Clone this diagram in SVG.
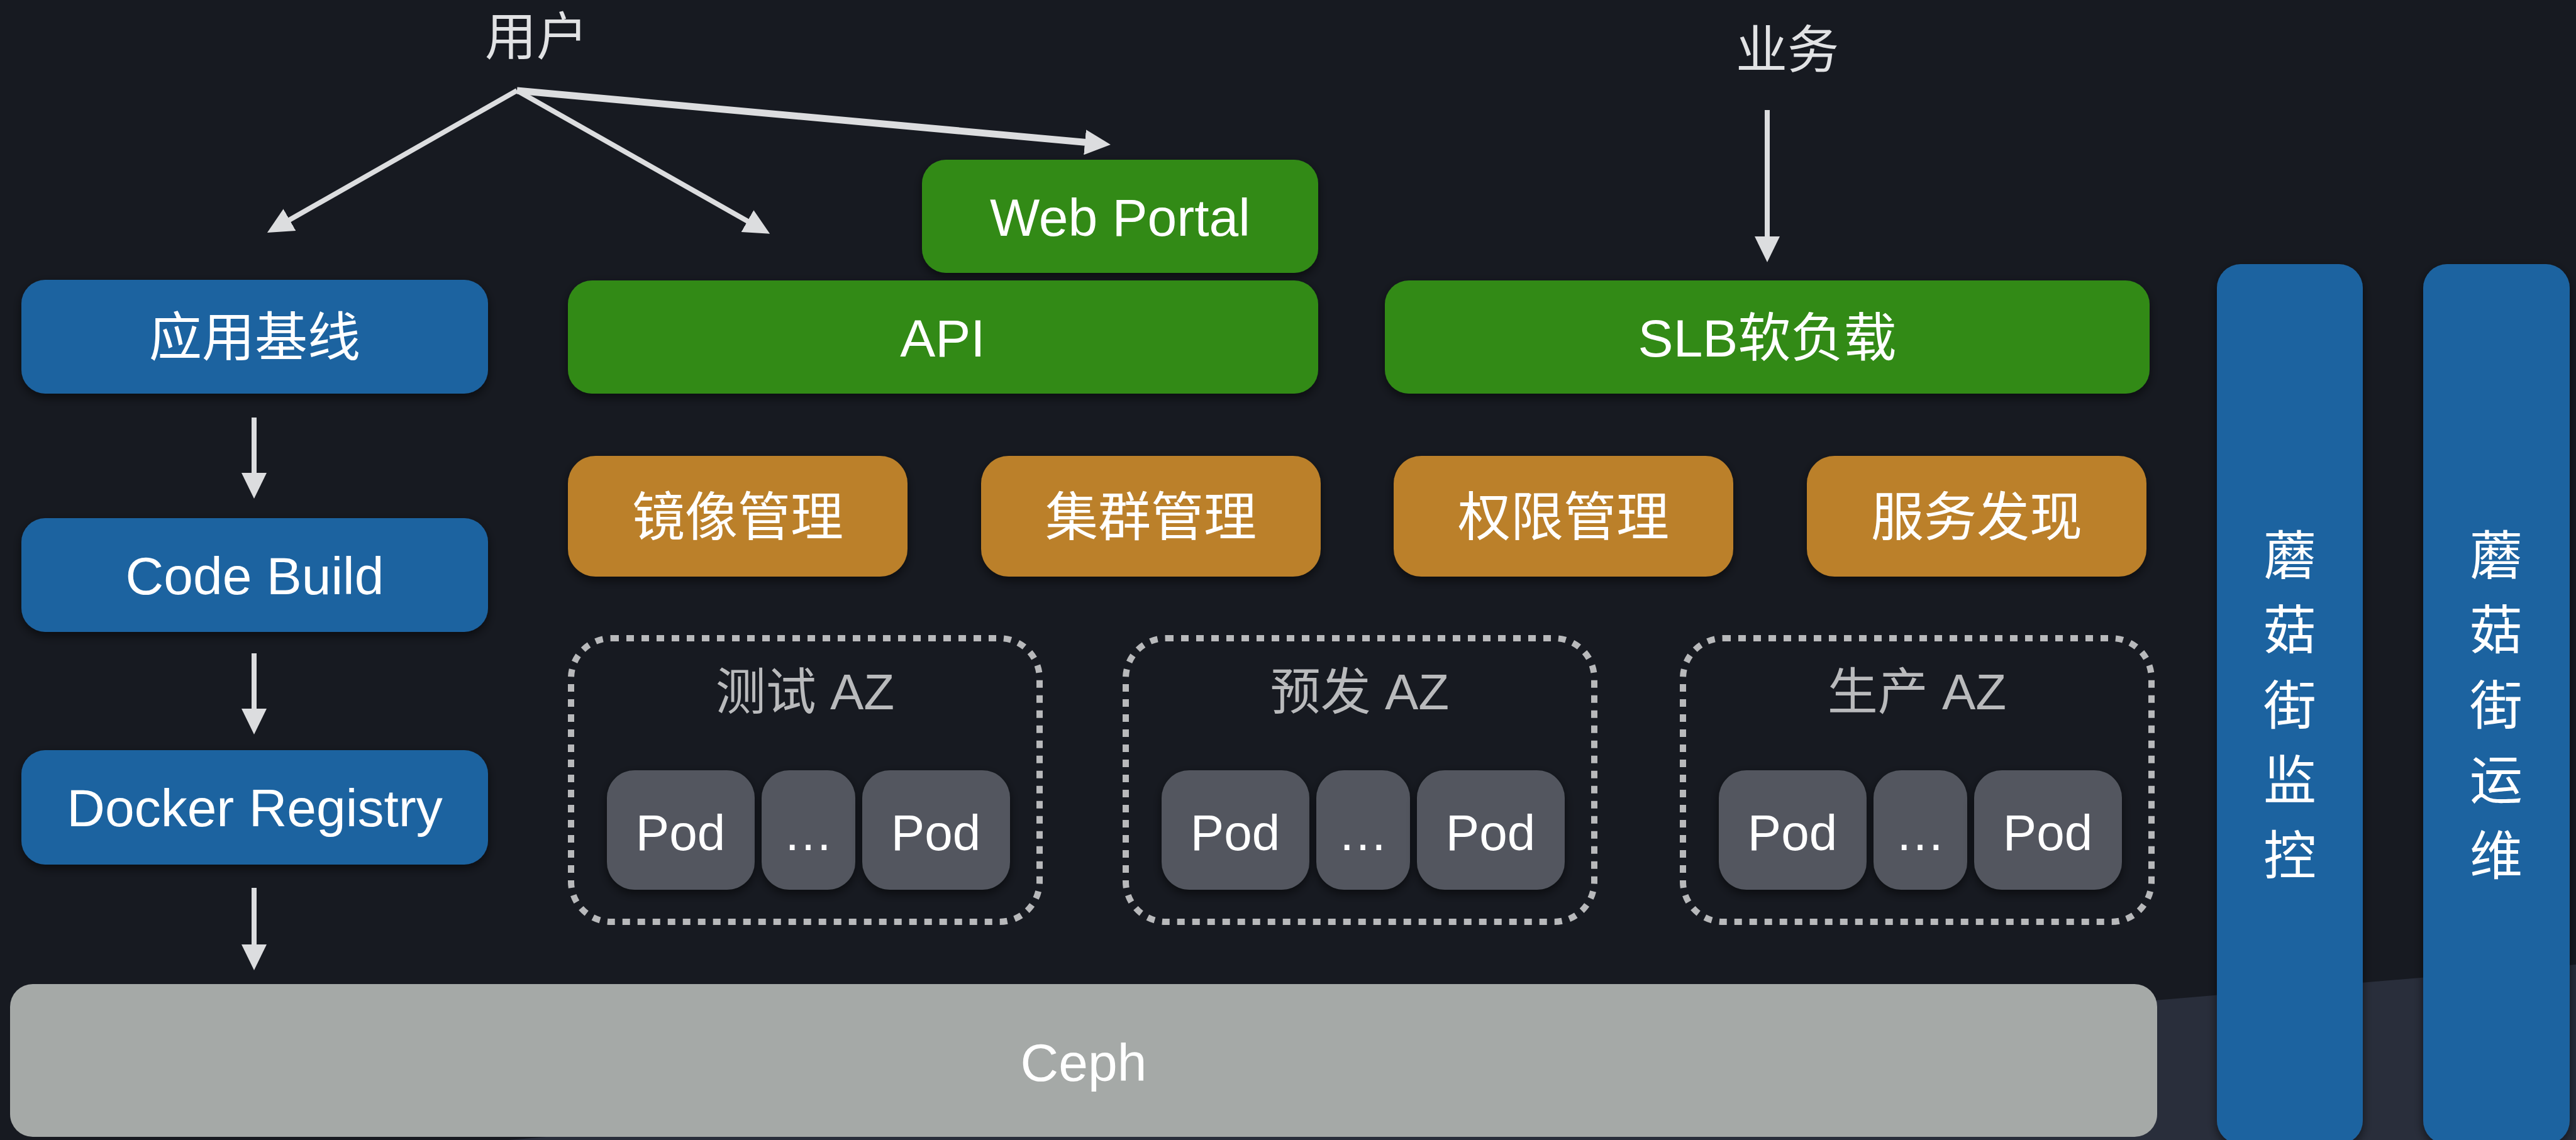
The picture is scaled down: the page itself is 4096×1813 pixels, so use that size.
<svg xmlns="http://www.w3.org/2000/svg" width="4096" height="1813" viewBox="0 0 4096 1813">
<defs>
<style>
.t{font-family:'Liberation Sans','Noto Sans CJK SC',sans-serif;fill:#ffffff;text-anchor:middle;font-size:84px}
.blue{fill:#1f64a0;filter:url(#sh)}
.green{fill:#318a18;filter:url(#sh)}
.orange{fill:#bb8029;filter:url(#sh)}
.pod{fill:#52575e;filter:url(#sh)}
.ceph{fill:#a5a9a7}
.pt{font-size:80px}
.az{fill:none;stroke:#b8b9bb;stroke-width:10;stroke-dasharray:12 12}
.azl{fill:#b9babc;font-size:80px}
.lbl{fill:#e1e2e4;font-size:82px}
.c{stroke:#dcdddf;stroke-width:8;fill:none;marker-end:url(#ah)}
.thick{stroke-width:11}
</style>
<marker id="ah" markerUnits="userSpaceOnUse" markerWidth="41" markerHeight="40" viewBox="0 0 41 40" refX="19" refY="20" orient="auto">
<path d="M0,0 L41,20 L0,40 z" fill="#dcdddf"/>
</marker>
<filter id="sh" x="-10%" y="-10%" width="120%" height="130%">
<feDropShadow dx="0" dy="6" stdDeviation="8" flood-color="#000000" flood-opacity="0.55"/>
</filter>
</defs>

<rect x="0" y="0" width="4096" height="1813" fill="#171a21"/>
<polygon points="809,1813 4096,1534 4096,1813" fill="#292e3b"/>

<g id="label-user"><text class="t lbl" x="853" y="87">用户</text></g>
<g id="label-business"><text class="t lbl" x="2842" y="108">业务</text></g>

<g id="node-baseline"><rect class="blue" x="34" y="445" width="742" height="181" rx="38"/><text class="t" x="405" y="566">应用基线</text></g>
<g id="node-codebuild"><rect class="blue" x="34" y="824" width="742" height="181" rx="38"/><text class="t" x="405" y="945">Code Build</text></g>
<g id="node-registry"><rect class="blue" x="34" y="1193" width="742" height="182" rx="38"/><text class="t" x="405" y="1314">Docker Registry</text></g>

<g id="node-webportal"><rect class="green" x="1466" y="254" width="630" height="180" rx="38"/><text class="t" x="1781" y="375">Web Portal</text></g>
<g id="node-api"><rect class="green" x="903" y="446" width="1193" height="180" rx="38"/><text class="t" x="1499" y="567">API</text></g>
<g id="node-slb"><rect class="green" x="2202" y="446" width="1216" height="180" rx="38"/><text class="t" x="2810" y="567">SLB软负载</text></g>

<g id="node-image"><rect class="orange" x="903" y="725" width="540" height="192" rx="44"/><text class="t" x="1173" y="852">镜像管理</text></g>
<g id="node-cluster"><rect class="orange" x="1560" y="725" width="540" height="192" rx="44"/><text class="t" x="1830" y="852">集群管理</text></g>
<g id="node-auth"><rect class="orange" x="2216" y="725" width="540" height="192" rx="44"/><text class="t" x="2486" y="852">权限管理</text></g>
<g id="node-discovery"><rect class="orange" x="2873" y="725" width="540" height="192" rx="44"/><text class="t" x="3143" y="852">服务发现</text></g>

<g id="az-test">
<rect class="az" x="908" y="1015" width="745" height="451" rx="64"/>
<text class="t azl" x="1280" y="1128">测试 AZ</text>
<rect class="pod" x="965" y="1225" width="235" height="190" rx="44"/><text class="t pt" x="1082" y="1352">Pod</text>
<rect class="pod" x="1211" y="1225" width="149" height="190" rx="44"/><text class="t pt" x="1285" y="1352">…</text>
<rect class="pod" x="1371" y="1225" width="235" height="190" rx="44"/><text class="t pt" x="1488" y="1352">Pod</text>
</g>
<g id="az-pre">
<rect class="az" x="1790" y="1015" width="745" height="451" rx="64"/>
<text class="t azl" x="2162" y="1128">预发 AZ</text>
<rect class="pod" x="1847" y="1225" width="235" height="190" rx="44"/><text class="t pt" x="1964" y="1352">Pod</text>
<rect class="pod" x="2093" y="1225" width="149" height="190" rx="44"/><text class="t pt" x="2167" y="1352">…</text>
<rect class="pod" x="2253" y="1225" width="235" height="190" rx="44"/><text class="t pt" x="2370" y="1352">Pod</text>
</g>
<g id="az-prod">
<rect class="az" x="2676" y="1015" width="745" height="451" rx="64"/>
<text class="t azl" x="3048" y="1128">生产 AZ</text>
<rect class="pod" x="2733" y="1225" width="235" height="190" rx="44"/><text class="t pt" x="2850" y="1352">Pod</text>
<rect class="pod" x="2979" y="1225" width="149" height="190" rx="44"/><text class="t pt" x="3053" y="1352">…</text>
<rect class="pod" x="3139" y="1225" width="235" height="190" rx="44"/><text class="t pt" x="3256" y="1352">Pod</text>
</g>

<g id="node-ceph"><rect class="ceph" x="16" y="1565" width="3414" height="243" rx="36"/><text class="t" x="1723" y="1719">Ceph</text></g>

<g id="node-monitor"><rect class="blue" x="3525" y="420" width="232" height="1400" rx="38"/>
<text class="t" x="3641"><tspan x="3641" y="914">蘑</tspan><tspan x="3641" y="1032">菇</tspan><tspan x="3641" y="1152">街</tspan><tspan x="3641" y="1271">监</tspan><tspan x="3641" y="1391">控</tspan></text></g>
<g id="node-ops"><rect class="blue" x="3853" y="420" width="233" height="1400" rx="38"/>
<text class="t" x="3969"><tspan x="3969" y="914">蘑</tspan><tspan x="3969" y="1032">菇</tspan><tspan x="3969" y="1152">街</tspan><tspan x="3969" y="1271">运</tspan><tspan x="3969" y="1391">维</tspan></text></g>

<g id="connectors">
<line class="c" x1="822" y1="144" x2="444" y2="359"/>
<line class="c" x1="822" y1="144" x2="1205" y2="361"/>
<line class="c thick" x1="822" y1="144" x2="1744" y2="228"/>
<line class="c" x1="2810" y1="175" x2="2810" y2="395"/>
<line class="c" x1="404" y1="664" x2="404" y2="771"/>
<line class="c" x1="404" y1="1039" x2="404" y2="1146"/>
<line class="c" x1="404" y1="1412" x2="404" y2="1521"/>
</g>
</svg>
